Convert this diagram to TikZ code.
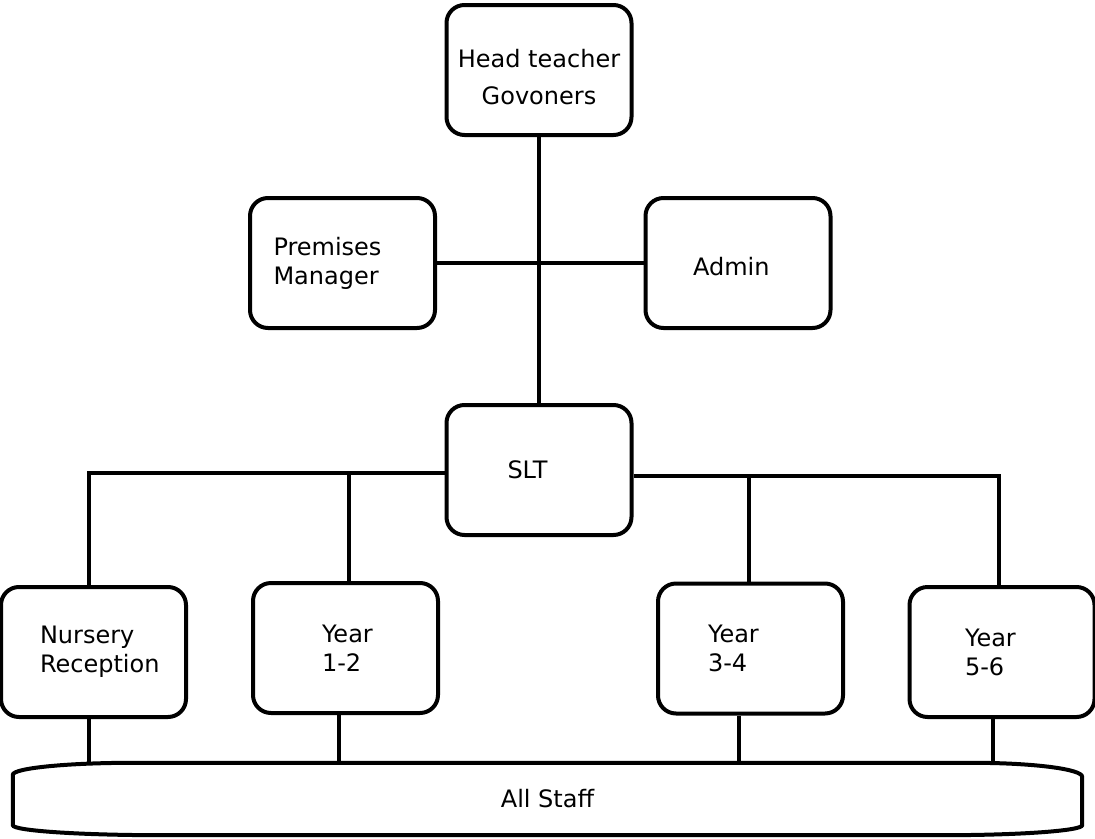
\documentclass[tikz,border=0pt]{standalone}
\usepackage{fontspec}
\setmainfont{DejaVu Sans}
\usetikzlibrary{positioning}

\newcommand\boxfont{\fontsize{24}{29}\selectfont\hyphenpenalty 10000\relax\exhyphenpenalty 10000\relax}

\tikzset{
  box/.style={draw, line width=4pt, rounded corners=18pt, minimum width=185pt,
    minimum height=130pt, inner sep=0pt, align=left, font=\boxfont},
  link/.style={line width=4pt},
  staffbox/.style={minimum width=1069pt, minimum height=72pt, inner sep=0pt,
    font=\boxfont}
}

\begin{document}
\begin{tikzpicture}[x=1pt, y=-1pt]
  \useasboundingbox (0,0) rectangle (1095,838);

  % vertici
  \node[box, align=center] (head) at (539,70) {\rule{0pt}{32pt}Head teacher\\[8pt]Govoners};
  \node[box, text width=138pt] (pm) at (342.5,263) {Premises\\Manager};
  \node[box, text width=90pt] (adm) at (738,263) {\rule{0pt}{26pt}Admin};
  \node[box, text width=63pt] (slt) at (539,470) {SLT};

  % anni
  \node[box, text width=107pt] (nur) at (93.5,652) {Nursery\\Reception\\[-12pt]};
  \node[box, text width=47pt] (y12) at (345.5,648) {Year\\1-2};
  \node[box, text width=85pt] (y34) at (750.5,648.5) {Year\\3-4};
  \node[box, text width=74pt] (y56) at (1002,652) {Year\\5-6};

  % tutto il personale
  \node[staffbox] (all) at (547.5,799) {All Staff};
  \draw[link] ([xshift=110pt]all.north west) -- ([xshift=-110pt]all.north east)
    arc[start angle=90, end angle=0, x radius=110pt, y radius=14pt]
    -- ([yshift=10pt]all.south east)
    arc[start angle=0, end angle=-90, x radius=140pt, y radius=10pt]
    -- ([xshift=150pt]all.south west)
    arc[start angle=270, end angle=180, x radius=150pt, y radius=10pt]
    -- ([yshift=-12pt]all.north west)
    arc[start angle=180, end angle=90, x radius=120pt, y radius=12pt]
    -- cycle;

  % collegamenti
  \draw[link] (head) -- (slt);
  \draw[link] (pm) -- (adm);
  \draw[link] ([yshift=-3pt]slt.west) -| ([xshift=-4.5pt]nur.north);
  \draw[link] ([xshift=3.5pt]y12.north) |- ([yshift=-3pt]slt.west);
  \draw[link] ([yshift=-6pt]slt.east) -| ([xshift=-3pt]y56.north);
  \draw[link] ([xshift=-1.5pt]y34.north) |- ([yshift=-6pt]slt.east);

  \draw[link] ([xshift=-4.5pt]nur.south) -- ([xshift=-4.5pt]nur.south |- all.north);
  \draw[link] ([xshift=-6.5pt]y12.south) -- ([xshift=-6.5pt]y12.south |- all.north);
  \draw[link] ([xshift=-11.5pt]y34.south) -- ([xshift=-11.5pt]y34.south |- all.north);
  \draw[link] ([xshift=-9pt]y56.south) -- ([xshift=-9pt]y56.south |- all.north);
\end{tikzpicture}
\end{document}
